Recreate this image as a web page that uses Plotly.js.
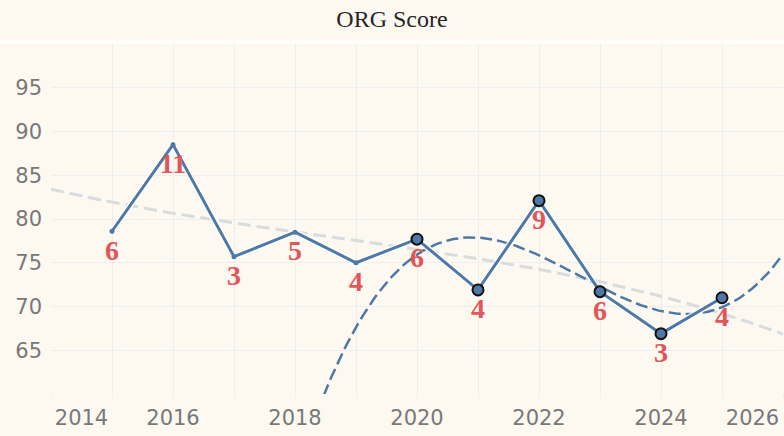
<!DOCTYPE html>
<html>
<head>
<meta charset="utf-8">
<script src="https://cdn.plot.ly/plotly-3.0.1.min.js"></script>
<style>
  html, body { margin: 0; padding: 0; background: #fdf9f0; }
  #chart { width: 784px; height: 436px; }
</style>
</head>
<body>
<div id="chart"></div>
<script>
// values
var years = [2015, 2016, 2017, 2018, 2019, 2020, 2021, 2022, 2023, 2024, 2025];
var scores = [78.6, 88.5, 75.7, 78.5, 75.0, 77.7, 71.9, 82.1, 71.7, 66.9, 71.0];
var counts = ['6', '11', '3', '5', '4', '6', '4', '9', '6', '3', '4'];
var tickYears = [2014, 2016, 2018, 2020, 2022, 2024, 2026];
var yTicks = [60, 65, 70, 75, 80, 85, 90, 95, 100];

var recentFrom = 2020;   // points from here on are highlighted and get their own fit
var xMin = 2014, xMax = 2026;

var blue = '#4e79a7';
var red = '#e15759';
var bg = '#fdf9f0';
var grid = '#eceef0';
var tickFont = {family: 'DejaVu Sans', size: 21, color: '#787878'};

// least squares polynomial fit, x centred for stability
function polyfit(xs, ys, deg) {
  var x0 = xs.reduce(function (a, b) { return a + b; }, 0) / xs.length;
  var n = deg + 1;
  var A = [], B = [];
  for (var r = 0; r < n; r++) {
    A.push([]);
    B.push(0);
    for (var c = 0; c < n; c++) {
      var s = 0;
      for (var i = 0; i < xs.length; i++) s += Math.pow(xs[i] - x0, r + c);
      A[r].push(s);
    }
    for (var i = 0; i < xs.length; i++) B[r] += ys[i] * Math.pow(xs[i] - x0, r);
  }
  for (var k = 0; k < n; k++) {
    for (var r = k + 1; r < n; r++) {
      var f = A[r][k] / A[k][k];
      for (var c = k; c < n; c++) A[r][c] -= f * A[k][c];
      B[r] -= f * B[k];
    }
  }
  var coef = new Array(n);
  for (var r = n - 1; r >= 0; r--) {
    var s = B[r];
    for (var c = r + 1; c < n; c++) s -= A[r][c] * coef[c];
    coef[r] = s / A[r][r];
  }
  return function (x) {
    var v = 0;
    for (var k = 0; k < n; k++) v += coef[k] * Math.pow(x - x0, k);
    return v;
  };
}

function fitTrace(fn, color, width, dash) {
  var fx = [], fy = [];
  for (var x = xMin; x <= xMax + 1e-9; x += 0.05) {
    fx.push(x);
    fy.push(fn(x));
  }
  return {
    x: fx, y: fy, type: 'scatter', mode: 'lines', hoverinfo: 'skip',
    line: {color: color, width: width, dash: dash}
  };
}

var recentX = [], recentY = [];
for (var i = 0; i < years.length; i++) {
  if (years[i] >= recentFrom) {
    recentX.push(years[i]);
    recentY.push(scores[i]);
  }
}

var allFit = polyfit(years, scores, 3);
var recentFit = polyfit(recentX, recentY, 3);

var traces = [
  fitTrace(allFit, '#d8dcdc', 3, '13px,6px'),
  fitTrace(recentFit, blue, 2.5, '12px,5px'),
  {
    x: years, y: scores, type: 'scatter', mode: 'lines', hoverinfo: 'skip',
    line: {color: 'rgba(255,255,255,0.8)', width: 6}
  },
  {
    x: years, y: scores, type: 'scatter', mode: 'lines+markers',
    line: {color: blue, width: 3},
    marker: {color: blue, size: 5}
  },
  {
    x: recentX, y: recentY, type: 'scatter', mode: 'markers',
    marker: {color: blue, size: 11, line: {color: '#111', width: 2}}
  },
  {
    x: years, y: scores, type: 'scatter', mode: 'markers+text',
    text: counts, textposition: 'bottom center',
    marker: {size: 10, opacity: 0},
    textfont: {family: 'Liberation Serif', size: 28, color: red, weight: 'bold'}
  }
];

// edge labels are pulled inside the plot, like the reference
var tickPos = tickYears.map(function (y) {
  return Math.min(Math.max(y, xMin + 0.5), xMax - 0.5);
});

var layout = {
  width: 784,
  height: 436,
  paper_bgcolor: bg,
  plot_bgcolor: bg,
  showlegend: false,
  margin: {l: 51, r: 1, t: 44, b: 42},
  title: {
    text: 'ORG Score',
    x: 0.5, xanchor: 'center',
    y: 1 - 19 / 436, yanchor: 'middle', yref: 'container',
    font: {family: 'Liberation Serif', size: 24, color: '#262626'}
  },
  xaxis: {
    range: [xMin, xMax],
    tickmode: 'array',
    tickvals: tickPos,
    ticktext: tickYears.map(String),
    showgrid: false,
    zeroline: false,
    showline: false,
    ticks: '',
    ticklabelstandoff: 9,
    tickfont: tickFont,
    minor: {
      tickmode: 'linear', tick0: xMin, dtick: 1,
      showgrid: true, gridcolor: grid, gridwidth: 1,
      ticks: 'outside', ticklen: 4, tickcolor: grid
    }
  },
  yaxis: {
    range: [yTicks[0], yTicks[yTicks.length - 1]],
    tickmode: 'array',
    tickvals: yTicks,
    ticktext: yTicks.map(function (v, i) {
      return (i === 0 || i === yTicks.length - 1) ? '' : String(v);
    }),
    showgrid: true,
    gridcolor: grid,
    zeroline: false,
    showline: false,
    ticks: '',
    ticklabelstandoff: 8,
    tickfont: tickFont
  },
  shapes: [{
    type: 'line', xref: 'paper', yref: 'paper',
    x0: -0.1, x1: 1.1, y0: 1.005, y1: 1.005,
    line: {color: '#ffffff', width: 3}
  }]
};

Plotly.newPlot('chart', traces, layout, {displaylogo: false, displayModeBar: false, staticPlot: true});
</script>
</body>
</html>
